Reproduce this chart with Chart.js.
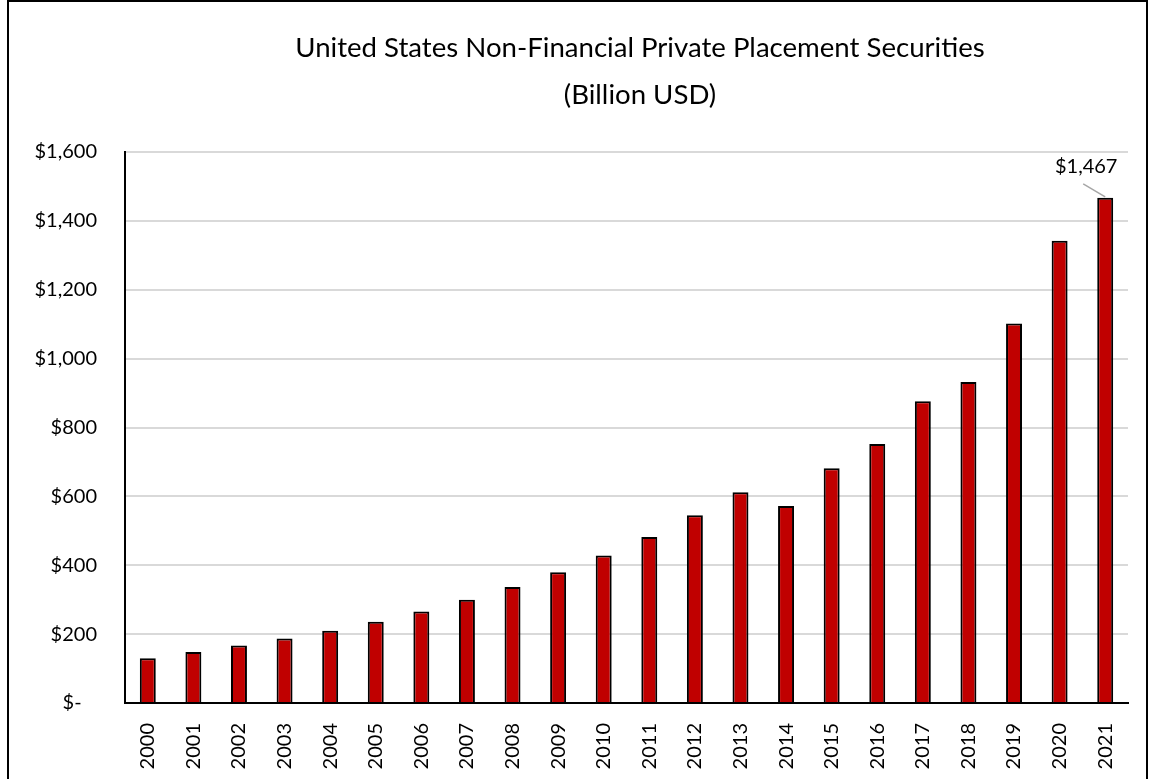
<!DOCTYPE html>
<html>
<head>
<meta charset="utf-8">
<script src="https://cdn.jsdelivr.net/npm/chart.js@4"></script>
<style>
  body { margin: 0; background: #fff; }
  #wrap { width: 1151px; height: 779px; }
</style>
</head>
<body>
<div id="wrap"><canvas id="placementChart" width="1151" height="779"></canvas></div>
<script>
// dados
const years = ['2000', '2001', '2002', '2003', '2004', '2005', '2006', '2007', '2008', '2009', '2010',
  '2011', '2012', '2013', '2014', '2015', '2016', '2017', '2018', '2019', '2020', '2021'];
const securities = [130, 148, 167, 187, 210, 236, 266, 300, 337, 380, 428,
  482, 545, 612, 572, 682, 752, 876, 932, 1102, 1342, 1467];
const yTicks = [0, 200, 400, 600, 800, 1000, 1200, 1400, 1600];
const titleLines = ['United States Non-Financial Private Placement Securities', '(Billion USD)'];

const fontFamily = "Lato, 'Open Sans', sans-serif";

function money(v) {
  if (v === 0) return '$-\u00a0\u00a0\u00a0';
  return '$' + v.toLocaleString('en-US');
}

// moldura preta e título (centralizado um pouco à direita, como no original)
const framePlugin = {
  id: 'frame',
  beforeDraw(chart) {
    const c = chart.ctx;
    c.save();
    c.fillStyle = '#fff';
    c.fillRect(0, 0, chart.width, chart.height);
    c.strokeStyle = '#000';
    c.lineWidth = 2;
    c.strokeRect(8, 1, 1139, 790);
    c.fillStyle = '#000';
    c.font = '27.6px ' + fontFamily;
    c.textAlign = 'center';
    c.textBaseline = 'middle';
    c.fillText(titleLines[0], 640, 48);
    c.fillText(titleLines[1], 640, 95);
    c.restore();
  }
};

// rótulo do último valor com linha de chamada
const lastLabelPlugin = {
  id: 'lastLabel',
  afterDatasetsDraw(chart) {
    const meta = chart.getDatasetMeta(0);
    const last = meta.data[meta.data.length - 1];
    const c = chart.ctx;
    c.save();
    c.strokeStyle = '#a6a6a6';
    c.lineWidth = 1.5;
    c.beginPath();
    c.moveTo(last.x - 22, last.y - 14);
    c.lineTo(last.x, last.y - 1);
    c.stroke();
    c.fillStyle = '#000';
    c.font = '20px ' + fontFamily;
    c.textAlign = 'center';
    c.textBaseline = 'middle';
    c.fillText(money(securities[securities.length - 1]), last.x - 19, last.y - 31);
    c.restore();
  }
};

const ctx = document.getElementById('placementChart').getContext('2d');
new Chart(ctx, {
  type: 'bar',
  data: {
    labels: years,
    datasets: [{
      data: securities,
      backgroundColor: '#c00000',
      borderColor: '#000',
      borderWidth: 2,
      categoryPercentage: 1,
      barPercentage: 0.35
    }]
  },
  options: {
    responsive: false,
    devicePixelRatio: 1,
    animation: false,
    layout: { padding: { left: 10, right: 23, top: 152, bottom: 0 } },
    plugins: {
      legend: { display: false },
      tooltip: { enabled: false },
      title: { display: false }
    },
    scales: {
      x: {
        grid: { display: false },
        border: { color: '#000', width: 2 },
        ticks: {
          color: '#000',
          font: { family: fontFamily, size: 20 },
          minRotation: 90,
          maxRotation: 90,
          padding: 12
        },
        afterFit(scale) { scale.height = 76; }
      },
      y: {
        min: 0,
        max: 1600,
        afterBuildTicks(scale) { scale.ticks = yTicks.map(v => ({ value: v })); },
        grid: { color: '#d9d9d9', lineWidth: 2, drawTicks: false },
        border: { color: '#000', width: 2 },
        ticks: {
          color: '#000',
          font: { family: fontFamily, size: 20 },
          padding: 28,
          callback: v => money(v)
        },
        afterFit(scale) { scale.width = 115; }
      }
    }
  },
  plugins: [framePlugin, lastLabelPlugin]
});
</script>
</body>
</html>
